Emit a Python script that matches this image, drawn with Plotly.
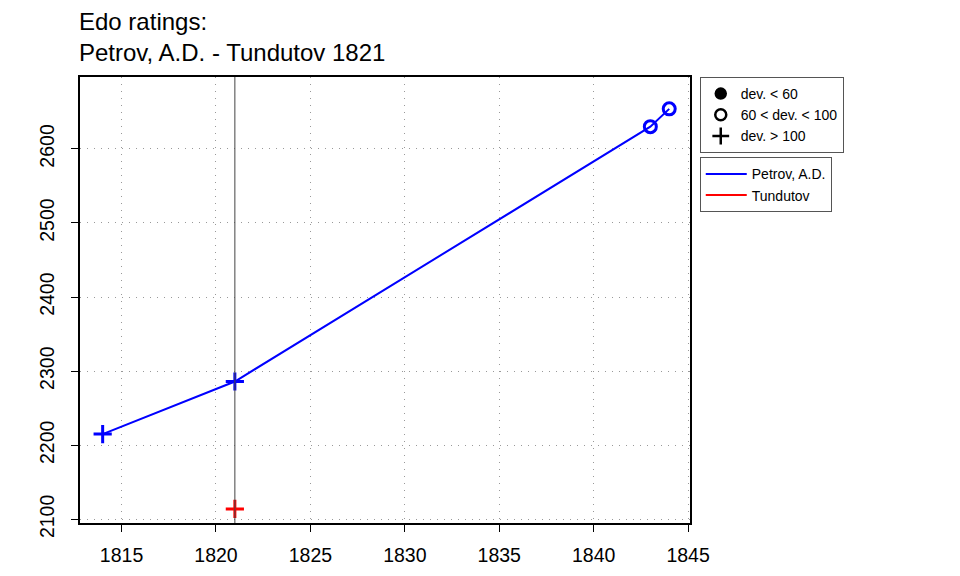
import plotly.graph_objects as go

# ratings data
petrov_years = [1814, 1821, 1843, 1844]
petrov_ratings = [2215, 2286, 2630, 2654]
petrov_dev = ["high", "high", "mid", "mid"]

tundutov_years = [1821]
tundutov_ratings = [2114]
tundutov_dev = ["high"]

event_year = 1821

x_ticks = [1815, 1820, 1825, 1830, 1835, 1840, 1845]
y_ticks = [2100, 2200, 2300, 2400, 2500, 2600]

symbol_map = {"low": "circle", "mid": "circle-open", "high": "cross-thin-open"}
size_map = {"low": 11, "mid": 12, "high": 13}

FONT = "Liberation Sans, Arial, sans-serif"

fig = go.Figure()

fig.add_trace(go.Scatter(
    x=petrov_years, y=petrov_ratings, mode="lines+markers",
    line=dict(color="#0000ff", width=2),
    marker=dict(symbol=[symbol_map[d] for d in petrov_dev],
                size=[size_map[d] for d in petrov_dev], opacity=1,
                color="#0000ff", line=dict(color="#0000ff", width=3)),
    showlegend=False,
))
fig.add_trace(go.Scatter(
    x=tundutov_years, y=tundutov_ratings, mode="markers",
    marker=dict(symbol=[symbol_map[d] for d in tundutov_dev],
                size=[size_map[d] for d in tundutov_dev], opacity=1,
                color="#ff0000", line=dict(color="#ff0000", width=3)),
    showlegend=False,
))

# legend 1: deviation symbols
for name, key in [("dev. < 60", "low"), ("60 < dev. < 100", "mid"), ("dev. > 100", "high")]:
    fig.add_trace(go.Scatter(
        x=[None], y=[None], mode="markers", name=name, legend="legend",
        marker=dict(symbol=symbol_map[key], size=size_map[key] - 1, color="black",
                    line=dict(color="black", width=2.5)),
    ))

# legend 2: players
for name, col in [("Petrov, A.D.", "#0000ff"), ("Tundutov", "#ff0000")]:
    fig.add_trace(go.Scatter(
        x=[None], y=[None], mode="lines", name=name, legend="legend2",
        line=dict(color=col, width=2),
    ))

fig.add_shape(type="line", x0=event_year, x1=event_year, xref="x",
              y0=0, y1=1, yref="paper", line=dict(color="#444444", width=1))

fig.add_annotation(
    text="Edo ratings:<br>Petrov, A.D. - Tundutov 1821",
    xref="paper", yref="paper", x=-0.005, y=1.159,
    xanchor="left", yanchor="top", align="left", showarrow=False,
    font=dict(family=FONT, size=24, color="black"),
)

legend_style = dict(
    font=dict(family=FONT, size=14, color="black"),
    bgcolor="white", bordercolor="#555555", borderwidth=1,
    xanchor="left", yanchor="top", tracegroupgap=0, itemclick=False,
)

axis_style = dict(
    ticks="outside", ticklen=7, tickcolor="black", tickwidth=1,
    showgrid=True, gridcolor="#999999", griddash="1px,6px", gridwidth=1,
    showline=True, linecolor="black", linewidth=2, mirror=True,
    zeroline=False, tickfont=dict(size=19.5),
)

# page body has an 8px margin, so the plot area is laid out 8px up/left
fig.update_layout(
    width=960, height=576,
    plot_bgcolor="white", paper_bgcolor="white",
    margin=dict(l=72, r=278, t=69, b=61),
    font=dict(family=FONT, size=16, color="black"),
    legend=dict(x=1.016, y=1.0, **legend_style),
    legend2=dict(x=1.016, y=0.82, itemwidth=41, **legend_style),
    xaxis=dict(range=[1812.8, 1845.1], tickvals=x_ticks,
               ticklabelstandoff=7, **axis_style),
    yaxis=dict(range=[2095, 2697], tickvals=y_ticks, tickangle=-90,
               ticklabelstandoff=9, **axis_style),
)

fig.write_html("out.html")
